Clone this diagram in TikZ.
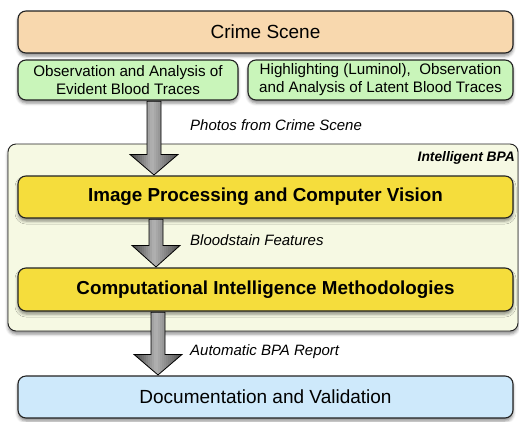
\documentclass[tikz,border=0pt]{standalone}
\usepackage{fontspec}
\setmainfont{Liberation Sans}
\usetikzlibrary{shadows.blur}
\definecolor{peach}{HTML}{F8D8AE}
\definecolor{mint}{HTML}{C9F5BA}
\definecolor{sun}{HTML}{F5DD3C}
\definecolor{cream}{HTML}{F6F9E3}
\definecolor{sky}{HTML}{CEE9FB}
\definecolor{edge}{HTML}{222222}
\tikzset{
  box/.style={draw=edge, line width=1.1pt, rounded corners=8pt, inner sep=0pt,
    align=center, minimum width=495pt,
    blur shadow={shadow xshift=0pt, shadow yshift=-3pt, shadow blur radius=3pt, shadow opacity=45}},
  group/.style={box, line width=0.9pt, fill=cream},
  blockarr/.style={draw=black, line width=0.8pt, line join=miter},
  note/.style={anchor=west, inner sep=0pt, font=\fontsize{15}{17}\selectfont\itshape},
  bigtxt/.style={font=\fontsize{19}{22}\selectfont},
  boldtxt/.style={font=\fontsize{18.8}{22}\selectfont\bfseries},
  smalltxt/.style={font=\fontsize{15.2}{18}\selectfont},
}
% outline of a block arrow: #1 start node, #2 end node, #3 x-coordinate, #4 head length
\newcommand\arrowoutline[4]{%
    ([xshift=-7pt,yshift=-0.6pt]#3 |- #1.south)
    -- ([xshift=-7pt,yshift=#4]#3 |- #2.north)
    -- ([xshift=-24pt,yshift=#4]#3 |- #2.north)
    -- ([yshift=0.5pt]#3 |- #2.north)
    -- ([xshift=24pt,yshift=#4]#3 |- #2.north)
    -- ([xshift=7pt,yshift=#4]#3 |- #2.north)
    -- ([xshift=7pt,yshift=-0.6pt]#3 |- #1.south) -- cycle}
% block arrow with a left-dark / centre-light / right-dark metallic fill
\newcommand\blockarrow[4]{%
  \begin{scope}
    \clip \arrowoutline{#1}{#2}{#3}{#4};
    \foreach \u in {-24,-22,...,22} {
      \pgfmathsetmacro\shade{\u<-3 ? 72-42*(\u+24)/21 : 30+38*(\u+3)/25}
      \fill[black!\shade] ([xshift=\u pt]#3 |- #1.south) rectangle ([xshift=\u pt+2.3pt]#3 |- #2.north);
    }
  \end{scope}
  \draw[blockarr] \arrowoutline{#1}{#2}{#3}{#4};}
\begin{document}
\begin{tikzpicture}[x=1pt,y=-1pt]
\useasboundingbox (0,0) rectangle (519,421);

% Intelligent BPA group (drawn first, behind everything)
\node[group, minimum width=510pt, minimum height=187pt] (bpa) at (263,237.5) {};
\node[anchor=east, inner sep=0pt, font=\fontsize{13.8}{16}\selectfont\bfseries\itshape] (bpalabel)
  at (515,158) {Intelligent BPA};

% top: crime scene and the two kinds of blood traces
\node[box, fill=peach, minimum height=42pt, bigtxt] (crime) at (265.5,32) {Crime Scene};
\node[box, fill=mint, minimum width=220pt, minimum height=40pt, smalltxt] (evident) at (128,80)
  {Observation and Analysis of\\Evident Blood Traces};
\node[box, fill=mint, minimum width=265pt, minimum height=40pt, smalltxt] (latent) at (380.5,80)
  {Highlighting (Luminol),~ Observation\\and Analysis of Latent Blood Traces};

% processing stages
\node[box, fill=sun, minimum height=42pt, boldtxt] (ipcv) at (265.5,197) {Image Processing and Computer Vision};
\node[box, fill=sun, minimum height=43pt, boldtxt] (cim) at (265.5,289.5) {Computational Intelligence Methodologies};

% output
\node[box, fill=sky, minimum height=42pt, bigtxt] (doc) at (265.5,397) {Documentation and Validation};

% flow arrows and their labels
\coordinate (ax1) at (154,0);
\coordinate (ax2) at (156,0);
\coordinate (ax3) at (158,0);
\blockarrow{evident}{ipcv}{ax1}{21pt}
\blockarrow{ipcv}{cim}{ax2}{22pt}
\blockarrow{cim}{doc}{ax3}{21pt}
\node[note] (l1) at (190,125) {Photos from Crime Scene};
\node[note] (l2) at (190,240) {Bloodstain Features};
\node[note] (l3) at (190,352) {Automatic BPA Report};
\end{tikzpicture}
\end{document}
